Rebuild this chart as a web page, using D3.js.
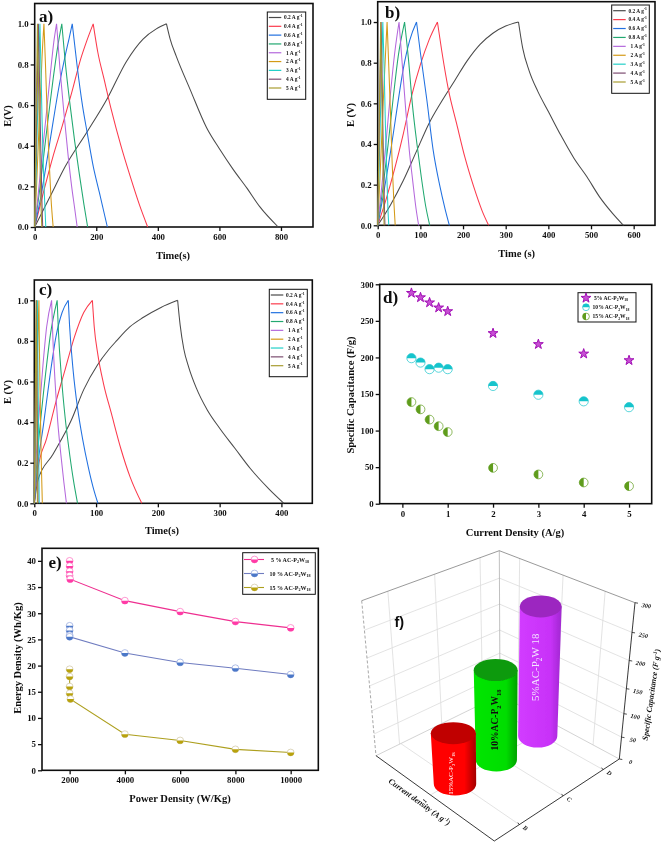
<!DOCTYPE html>
<html>
<head>
<meta charset="utf-8">
<script src="https://cdn.jsdelivr.net/npm/d3@7"></script>
<style>
  body { margin: 0; background: #fff; }
  svg { display: block; }
  text { font-family: "Liberation Serif", serif; font-weight: bold; fill: #111; }
</style>
</head>
<body>
<svg id="fig" width="661" height="844"></svg>
<script>
// galvanostatic curves, [time, E]
var gcdLabels = ["0.2 A g^{-1}", "0.4 A g^{-1}", "0.6 A g^{-1}", "0.8 A g^{-1}", "1 A g^{-1}", "2 A g^{-1}", "3 A g^{-1}", "4 A g^{-1}", "5 A g^{-1}"];
var gcdColors = ["#4a4a4a", "#fb3a4c", "#2070e0", "#20a870", "#b468dc", "#d49a18", "#22d0c8", "#7c4c70", "#a89c30"];

var curvesA = [
  [[0,0],[50,.15],[100,.30],[171,.47],[235,.63],[298,.815],[352,.925],[395,.975],[428,1],[440,.925],[460,.84],[504,.68],[558,.49],[600,.385],[644,.285],[690,.19],[731,.10],[791,0]],
  [[0,0],[30,.18],[60,.35],[90,.5],[120,.66],[150,.83],[170,.92],[190,1],[205,.86],[225,.73],[250,.57],[280,.40],[310,.25],[340,.11],[367,0]],
  [[0,0],[20,.15],[40,.33],[60,.52],[80,.7],[100,.85],[112,.93],[122,1],[138,.79],[155,.6],[171,.46],[190,.30],[210,.17],[236,0]],
  [[0,0],[15,.17],[30,.36],[45,.55],[60,.73],[75,.89],[88,1],[100,.80],[115,.60],[130,.42],[145,.26],[160,.11],[172,0]],
  [[0,0],[12,.17],[25,.37],[38,.56],[50,.74],[62,.91],[71,1],[82,.78],[95,.56],[108,.36],[120,.2],[130,.09],[138,0]],
  [[0,0],[6,.2],[12,.42],[18,.62],[24,.84],[30,1],[35,.8],[40,.58],[46,.35],[53,.14],[60,0]],
  [[0,0],[4,.22],[8,.47],[12,.72],[17,1],[20,.8],[24,.52],[28,.3],[32,.14],[36,0]],
  [[0,0],[3,.25],[6,.5],[9,.76],[12,1],[15,.78],[18,.52],[21,.29],[24,.1],[26,0]],
  [[0,0],[2,.24],[4,.47],[6,.7],[9,1],[12,.74],[15,.48],[18,.26],[21,.08],[23,0]]
];
var curvesB = [
  [[0,0],[30,.1],[60,.22],[90,.36],[120,.5],[150,.61],[180,.71],[210,.81],[240,.89],[270,.945],[300,.98],[330,1],[340,.87],[355,.76],[375,.66],[400,.56],[430,.44],[460,.33],[490,.24],[520,.14],[550,.06],[576,0]],
  [[0,0],[20,.13],[40,.28],[60,.45],[80,.64],[100,.79],[120,.91],[140,1],[150,.86],[166,.665],[185,.5],[205,.33],[225,.19],[245,.07],[260,0]],
  [[0,0],[15,.17],[30,.36],[45,.57],[60,.77],[75,.91],[91,1],[100,.85],[115,.62],[130,.37],[145,.2],[158,.08],[168,0]],
  [[0,0],[12,.18],[24,.39],[36,.62],[48,.83],[63,1],[72,.82],[82,.58],[92,.4],[102,.24],[112,.1],[122,0]],
  [[0,0],[10,.2],[20,.42],[30,.65],[40,.85],[50,1],[58,.78],[66,.56],[74,.37],[82,.22],[90,.08],[96,0]],
  [[0,0],[5,.22],[10,.46],[15,.7],[22,1],[26,.78],[30,.55],[34,.3],[38,.11],[41,0]],
  [[0,0],[3,.25],[6,.5],[9,.75],[12,1],[15,.78],[18,.5],[21,.27],[24,.08],[26,0]],
  [[0,0],[2,.25],[4,.5],[6,.75],[8,1],[10,.78],[12,.5],[14,.28],[16,.07],[17,0]],
  [[0,0],[2,.28],[4,.57],[7,1],[9,.72],[11,.45],[13,.2],[15,0]]
];
var curvesC = [
  [[0,0],[6,.115],[30,.24],[60,.41],[80,.56],[102,.68],[120,.755],[133,.80],[155,.87],[176,.915],[205,.965],[232,1],[236,.88],[242,.76],[250,.67],[262,.57],[280,.46],[300,.37],[325,.27],[350,.17],[380,.07],[404,0]],
  [[0,0],[6,.17],[20,.32],[35,.5],[50,.66],[65,.82],[80,.94],[94,1],[97,.87],[103,.73],[112,.59],[125,.44],[140,.27],[155,.13],[174,0]],
  [[0,0],[5,.17],[15,.39],[25,.62],[35,.82],[45,.94],[55,1],[57,.88],[63,.65],[70,.47],[78,.32],[88,.17],[96,.07],[103,0]],
  [[0,0],[4,.2],[10,.4],[18,.63],[26,.83],[37,1],[39,.85],[44,.62],[50,.42],[56,.27],[63,.12],[70,0]],
  [[0,0],[3,.22],[8,.45],[14,.68],[20,.87],[28,1],[30,.82],[34,.58],[38,.4],[43,.24],[48,.1],[52,0]],
  [[0,0],[2,.3],[4,.6],[7.5,1],[8.5,.72],[10,.42],[11.5,.18],[13,0]],
  [[0,0],[2,.45],[5,1],[6,.65],[7,.3],[8,0]],
  [[0,0],[1.5,.45],[3.5,1],[4.3,.65],[5.2,.3],[6,0]],
  [[0,0],[1.2,.4],[3,1],[3.7,.65],[4.4,.3],[5,0]]
];

// panel d
var currents = [0.2, 0.4, 0.6, 0.8, 1, 2, 3, 4, 5];
var capLabels = ["5% AC-P_{2}W_{18}", "10% AC-P_{2}W_{18}", "15% AC-P_{2}W_{18}"];
var cap5 = [288, 282, 275, 268, 263, 233, 218, 205, 196];
var cap10 = [199, 193, 184, 186, 184, 161, 149, 140, 132];
var cap15 = [139, 129, 115, 106, 98, 49, 40, 29, 24];

// panel e
var ragoLabels = ["5 % AC-P_{2}W_{18}", "10 % AC-P_{2}W_{18}", "15 % AC-P_{2}W_{18}"];
var rago5 = [[2000,40],[2000,39],[2000,38],[2000,37.2],[2020,36.5],[4000,32.4],[6000,30.3],[8000,28.4],[10000,27.2]];
var rago10 = [[2000,27.6],[2000,26.7],[2000,25.8],[2000,25.5],[4000,22.4],[6000,20.6],[8000,19.5],[10000,18.3]];
var rago15 = [[2000,19.3],[2000,17.9],[2000,16],[2000,14.7],[2030,13.6],[4000,6.9],[6000,5.7],[8000,4],[10000,3.4]];

// panel f
var barNames = ["15%", "10%", "5%"];
var barValues = [113, 200, 288];
var zTicks = [0, 50, 100, 150, 200, 250, 300];
var zFractions = [0, .14, .29, .45, .63, .81, 1];

var svg = d3.select("#fig");
var defs = svg.append("defs");
// the reference is a soft, low resolution scan
defs.append("filter").attr("id", "soft")
  .attr("filterUnits", "userSpaceOnUse")
  .attr("x", 0).attr("y", 0).attr("width", 661).attr("height", 844)
  .append("feGaussianBlur").attr("stdDeviation", 0.3);
var root = svg.append("g").attr("filter", "url(#soft)");

// small markup: _{sub} and ^{sup}
function rich(sel, str) {
  var parts = str.split(/([_^]\{[^}]*\})/).filter(function (p) { return p !== ""; });
  var size = parseFloat(sel.attr("font-size"));
  var pending = 0;
  parts.forEach(function (p) {
    var m = p.match(/^([_^])\{(.*)\}$/);
    var t = sel.append("tspan");
    if (m) {
      var dy = (m[1] === "_" ? 0.28 : -0.38) * size;
      t.text(m[2]).attr("font-size", size * 0.68).attr("dy", dy + pending);
      pending = -dy;
    } else {
      t.text(p).attr("dy", pending);
      pending = 0;
    }
  });
  return sel;
}

function label(g, x, y, str, size, rotate, anchor) {
  var t = g.append("text")
    .attr("font-size", size)
    .attr("text-anchor", anchor || "middle")
    .attr("transform", "translate(" + x + "," + y + ")" + (rotate ? " rotate(" + rotate + ")" : ""));
  return rich(t, str);
}

// frame, axes, axis titles, returns scales
function panel(o) {
  var g = root.append("g");
  var x = d3.scaleLinear().domain(o.xDomain).range([o.left, o.right]);
  var y = d3.scaleLinear().domain(o.yDomain).range([o.bottom, o.top]);
  var ax = g.append("g").attr("transform", "translate(0," + o.bottom + ")")
    .call(d3.axisBottom(x).tickValues(o.xTicks).tickSize(4).tickPadding(2).tickFormat(o.xFormat || d3.format("d")));
  var ay = g.append("g").attr("transform", "translate(" + o.left + ",0)")
    .call(d3.axisLeft(y).tickValues(o.yTicks).tickSize(4).tickPadding(2).tickFormat(o.yFormat || d3.format("d")));
  [ax, ay].forEach(function (a) {
    a.select(".domain").remove();
    a.selectAll("line").attr("stroke", "#111").attr("stroke-width", 1.3);
    a.selectAll("text").attr("font-size", 8.8).style("font-family", null);
  });
  ax.selectAll("text").attr("dy", "0.8em");
  g.append("rect")
    .attr("x", o.left).attr("y", o.top)
    .attr("width", o.right - o.left).attr("height", o.bottom - o.top)
    .attr("fill", "none").attr("stroke", "#111").attr("stroke-width", 1.6);
  label(g, o.xLabel[1], o.xLabel[2], o.xLabel[0], 10.5);
  label(g, o.yLabel[1], o.yLabel[2], o.yLabel[0], 10.5, -90);
  label(g, o.tag[1], o.tag[2], o.tag[0], 17, 0, "start");
  return { x: x, y: y, g: g };
}

function legendBox(g, x0, y0, x1, y1) {
  g.append("rect").attr("x", x0).attr("y", y0).attr("width", x1 - x0).attr("height", y1 - y0)
    .attr("fill", "#fff").attr("stroke", "#111").attr("stroke-width", 1);
}

function gcdPanel(o, curves, lg) {
  var p = panel(o);
  var line = d3.line().curve(d3.curveMonotoneX)
    .x(function (d) { return p.x(d[0]); }).y(function (d) { return p.y(d[1]); });
  // charge and discharge are smoothed apart, so the peak stays sharp
  var twoArms = function (c) {
    var peak = d3.bisector(function (d) { return d[1]; }).left(c.map(function (d) { return d; }), 1);
    var top = c.findIndex(function (d) { return d[1] === 1; });
    return line(c.slice(0, top + 1)) + line(c.slice(top));
  };
  p.g.append("g").selectAll("path").data(curves).enter().append("path")
    .attr("d", twoArms).attr("fill", "none").attr("stroke-width", 1.05)
    .attr("stroke", function (d, i) { return gcdColors[i]; });
  legendBox(p.g, lg.x0, lg.y0, lg.x1, lg.y1);
  var rows = d3.scalePoint().domain(gcdLabels).range([lg.first, lg.last]);
  gcdLabels.forEach(function (l, i) {
    p.g.append("line").attr("x1", lg.x0 + 1.5).attr("x2", lg.x0 + 14)
      .attr("y1", rows(l)).attr("y2", rows(l))
      .attr("stroke", gcdColors[i]).attr("stroke-width", 1.2);
    label(p.g, lg.x0 + 26, rows(l) + 1.8, l, 5.4);
  });
}

gcdPanel({
  left: 34.7, right: 313, top: 3.5, bottom: 227,
  xDomain: [0, 904], yDomain: [0, 1.1],
  xTicks: [0, 200, 400, 600, 800], yTicks: [0, .2, .4, .6, .8, 1], yFormat: d3.format(".1f"),
  xLabel: ["Time(s)", 173, 259], yLabel: ["E(V)", 11, 116], tag: ["a)", 39, 22]
}, curvesA, { x0: 267.3, y0: 12, x1: 305.7, y1: 99.3, first: 17.5, last: 88 });

gcdPanel({
  left: 377.7, right: 655, top: 1.7, bottom: 225.3,
  xDomain: [0, 650], yDomain: [0, 1.1],
  xTicks: [0, 100, 200, 300, 400, 500, 600], yTicks: [0, .2, .4, .6, .8, 1], yFormat: d3.format(".1f"),
  xLabel: ["Time (s)", 516.7, 257], yLabel: ["E (V)", 354, 115], tag: ["b)", 385, 18]
}, curvesB, { x0: 611.7, y0: 5, x1: 649.3, y1: 93.3, first: 10.7, last: 82 });

gcdPanel({
  left: 34.3, right: 312.3, top: 280, bottom: 503.3,
  xDomain: [0, 450], yDomain: [0, 1.1],
  xTicks: [0, 100, 200, 300, 400], yTicks: [0, .2, .4, .6, .8, 1], yFormat: d3.format(".1f"),
  xLabel: ["Time(s)", 162, 534], yLabel: ["E (V)", 11, 392], tag: ["c)", 39, 295]
}, curvesC, { x0: 269.3, y0: 289.3, x1: 307.3, y1: 376.7, first: 295, last: 365.7 });

// half filled marker
function halfMark(g, x, y, r, from, color, edge) {
  g.append("circle").attr("cx", x).attr("cy", y).attr("r", r)
    .attr("fill", "#fff").attr("stroke", edge).attr("stroke-width", 0.7);
  g.append("path")
    .attr("d", d3.arc()({ innerRadius: 0, outerRadius: r, startAngle: from, endAngle: from + Math.PI }))
    .attr("transform", "translate(" + x + "," + y + ")")
    .attr("fill", color);
}

// panel d
(function () {
  var p = panel({
    left: 379.7, right: 651.7, top: 284.3, bottom: 503.7,
    xDomain: [-0.5, 5.5], yDomain: [0, 300],
    xTicks: [0, 1, 2, 3, 4, 5], yTicks: zTicks,
    xLabel: ["Current Density (A/g)", 515, 536], yLabel: ["Specific Capacitance (F/g)", 354, 395], tag: ["d)", 383, 303]
  });
  var star = d3.symbol().type(d3.symbolStar).size(30);
  function drawStar(x, y) {
    p.g.append("path").attr("d", star()).attr("transform", "translate(" + x + "," + y + ")")
      .attr("fill", "#c850d4").attr("stroke", "#a010b4").attr("stroke-width", 1);
  }
  currents.forEach(function (c, i) {
    drawStar(p.x(c), p.y(cap5[i]));
    halfMark(p.g, p.x(c), p.y(cap10[i]), 4.6, -Math.PI / 2, "#18c4cc", "#18c4cc");
    halfMark(p.g, p.x(c), p.y(cap15[i]), 4.4, Math.PI, "#5e9c1c", "#5e9c1c");
  });
  legendBox(p.g, 578, 292.7, 636, 322);
  var rows = d3.scalePoint().domain(capLabels).range([298, 316.5]);
  var markX = d3.scaleLinear().domain([0, 1]).range([586, 611]);
  drawStar(markX(0), rows(capLabels[0]));
  halfMark(p.g, markX(0), rows(capLabels[1]), 3.4, -Math.PI / 2, "#18c4cc", "#18c4cc");
  halfMark(p.g, markX(0), rows(capLabels[2]), 3.4, Math.PI, "#5e9c1c", "#5e9c1c");
  capLabels.forEach(function (l) {
    label(p.g, markX(1), rows(l) + 1.8, l, 5.6);
  });
})();

// panel e
(function () {
  var p = panel({
    left: 42, right: 318.3, top: 548.3, bottom: 770.3,
    xDomain: [1000, 11000], yDomain: [0, 42.4],
    xTicks: [2000, 4000, 6000, 8000, 10000], yTicks: [0, 5, 10, 15, 20, 25, 30, 35, 40],
    xLabel: ["Power Density (W/Kg)", 180, 802], yLabel: ["Energy Density (Wh/Kg)", 21, 658], tag: ["e)", 48.5, 568]
  });
  var line = d3.line().x(function (d) { return p.x(d[0]); }).y(function (d) { return p.y(d[1]); });
  var series = [rago5, rago10, rago15];
  var fills = ["#ff3aa6", "#4c78c8", "#b8a20e"];
  var lines = ["#ee2f90", "#6f7cc0", "#ad9f1e"];
  var edges = ["#ff6fc0", "#8fa4dc", "#cfc4a0"];
  series.forEach(function (s, k) {
    p.g.append("path").attr("d", line(s)).attr("fill", "none")
      .attr("stroke", lines[k]).attr("stroke-width", 1.1);
    s.forEach(function (d) {
      halfMark(p.g, p.x(d[0]), p.y(d[1]), 3.4, Math.PI / 2, fills[k], edges[k]);
    });
  });
  legendBox(p.g, 242.7, 552.7, 315.3, 594.3);
  var rows = d3.scalePoint().domain(ragoLabels).range([559.5, 587.5]);
  ragoLabels.forEach(function (l, k) {
    p.g.append("line").attr("x1", 244).attr("x2", 264)
      .attr("y1", rows(l)).attr("y2", rows(l)).attr("stroke", lines[k]).attr("stroke-width", 1.1);
    halfMark(p.g, 254.5, rows(l), 3.4, Math.PI / 2, fills[k], edges[k]);
    label(p.g, 290, rows(l) + 2.2, l, 6);
  });
})();

// panel f, pseudo 3D box
(function () {
  var g = root.append("g");
  var leftTop = [361.7, 600.7], backTop = [499.3, 550.7], rightTop = [635, 602.7];
  var leftBot = [376, 755.7], frontBot = [494.3, 841], rightBot = [619.3, 759], backBot = [500, 695];
  var mix = function (a, b, t) { return d3.interpolateArray(a, b)(t); };
  var zFrac = d3.scaleLinear().domain(zTicks).range(zFractions);
  var seg = function (a, b, stroke, width, dash) {
    g.append("line").attr("x1", a[0]).attr("y1", a[1]).attr("x2", b[0]).attr("y2", b[1])
      .attr("stroke", stroke).attr("stroke-width", width).attr("stroke-dasharray", dash || null);
  };
  var grid = "#dcdcdc";
  // wall grid
  zTicks.slice(1, -1).forEach(function (v) {
    var f = zFrac(v);
    var back = mix(backBot, backTop, f);
    seg(mix(leftBot, leftTop, f), back, grid, 0.8);
    seg(back, mix(rightBot, rightTop, f), grid, 0.8);
  });
  [.19, .53, .86].forEach(function (t) {
    seg(mix(leftBot, backBot, t), mix(leftTop, backTop, t), grid, 0.8);
  });
  [.15, .47, .78].forEach(function (t) {
    seg(mix(backBot, rightBot, t), mix(backTop, rightTop, t), grid, 0.8);
  });
  // floor grid
  [.2, .55, .87].forEach(function (t) {
    seg(mix(frontBot, rightBot, t), mix(leftBot, backBot, t), grid, 0.8);
  });
  seg(mix(leftBot, frontBot, .46), mix(backBot, rightBot, .46), grid, 0.8);
  seg(leftBot, backBot, "#c8c8c8", 0.8);
  seg(backBot, rightBot, "#c8c8c8", 0.8);
  seg(backBot, backTop, "#b0b0b0", 0.8);
  seg(leftTop, backTop, "#808080", 0.8);
  seg(backTop, rightTop, "#808080", 0.8);
  seg(leftTop, leftBot, "#909090", 0.8, "3,2");
  // black axes
  seg(leftBot, frontBot, "#222", 0.9);
  seg(frontBot, rightBot, "#222", 0.9);
  seg(rightBot, rightTop, "#222", 0.9);

  zTicks.forEach(function (v) {
    var a = mix(rightBot, rightTop, zFrac(v));
    seg(a, [a[0] + 3, a[1] + 0.5], "#222", 0.8);
    g.append("text").attr("font-size", 6.2).attr("font-style", "italic").attr("text-anchor", "middle")
      .attr("transform", "translate(" + (a[0] + 11) + "," + (a[1] + 5) + ") rotate(10)")
      .text(v);
  });
  var catLabels = ["B", "C", "D"];
  var catFrac = [.2, .55, .87];
  catLabels.forEach(function (c, i) {
    var a = mix(frontBot, rightBot, catFrac[i]);
    seg(a, [a[0] - 1.5, a[1] - 2], "#222", 0.8);
    g.append("text").attr("font-size", 6.2).attr("font-style", "italic").attr("text-anchor", "middle")
      .attr("transform", "translate(" + (a[0] + 5) + "," + (a[1] + 5) + ") rotate(35)").text(c);
  });
  var one = mix(leftBot, frontBot, .46);
  g.append("text").attr("font-size", 6.2).attr("font-style", "italic").attr("text-anchor", "middle")
    .attr("transform", "translate(" + (one[0] - 4) + "," + (one[1] + 7) + ") rotate(-55)").text("1");

  var t1 = g.append("text").attr("font-size", 8).attr("font-style", "italic").attr("text-anchor", "middle")
    .attr("transform", "translate(418,804) rotate(36)");
  rich(t1, "Current density (A g^{-1})");
  var t2 = g.append("text").attr("font-size", 8).attr("font-style", "italic").attr("text-anchor", "middle")
    .attr("transform", "translate(654,695) rotate(-82)");
  rich(t2, "Specific Capacitance (F g^{-1})");

  g.append("text").attr("x", 394.5).attr("y", 627).attr("font-size", 14.5)
    .style("font-family", "'Liberation Sans', sans-serif").text("f)");

  // cylinders, back to front
  var baseX = d3.scalePoint().domain(barNames).range([455, 537.7]);
  var baseY = d3.scalePoint().domain(barNames).range([784, 736]);
  var radius = d3.scaleOrdinal().domain(barNames).range([21.2, 20.6, 19.6]);
  var lean = d3.scaleOrdinal().domain(barNames).range([-1.7, -0.7, 3]);
  var height = d3.scaleLinear().domain([0, 300]).range([0, 135]);
  var sideStops = [["#ff0000", "#ff0000", "#a40000"], ["#00e600", "#00dd00", "#00a000"], ["#d23cff", "#c832f8", "#a028d0"]];
  var topFill = ["#c00000", "#0a9a0a", "#9c28c0"];
  var bars = barNames.map(function (n, i) { return { name: n, value: barValues[i], i: i }; });
  bars.slice().reverse().forEach(function (b) {
    var id = "cyl" + b.i;
    var grad = defs.append("linearGradient").attr("id", id);
    [0, .74, 1].forEach(function (o, k) {
      grad.append("stop").attr("offset", o).attr("stop-color", sideStops[b.i][k]);
    });
    var bx = baseX(b.name), by = baseY(b.name), r = radius(b.name);
    var tx = bx + lean(b.name), ty = by - height(b.value), rt = r + 1.3, ryBot = 11.5, ryTop = 11;
    g.append("path").attr("fill", "url(#" + id + ")")
      .attr("d", "M" + (tx - rt) + "," + ty + "L" + (bx - r) + "," + by +
        "A" + r + "," + ryBot + " 0 0 0 " + (bx + r) + "," + by +
        "L" + (tx + rt) + "," + ty + "Z");
    g.append("ellipse").attr("cx", tx).attr("cy", ty).attr("rx", rt).attr("ry", ryTop).attr("fill", topFill[b.i]);
  });

  var tagged = [
    ["15%AC-P_{2}W_{18}", "15%", 7, "#fff", -2, 15],
    ["10%AC-P_{2}W_{18}", "10%", 9.5, "#111", 2, 5],
    ["5%AC-P_{2}W 18", "5%", 11, "#f4e6ff", 1, -4]
  ];
  tagged.forEach(function (d, i) {
    var cx = baseX(d[1]) + d[4];
    var cy = baseY(d[1]) - height(barValues[i]) / 2 + d[5];
    var t = label(g, cx, cy, d[0], d[2], -90);
    t.attr("fill", d[3]).style("fill", d[3]).style("font-weight", i === 1 ? "bold" : "normal");
  });
})();
</script>
</body>
</html>
